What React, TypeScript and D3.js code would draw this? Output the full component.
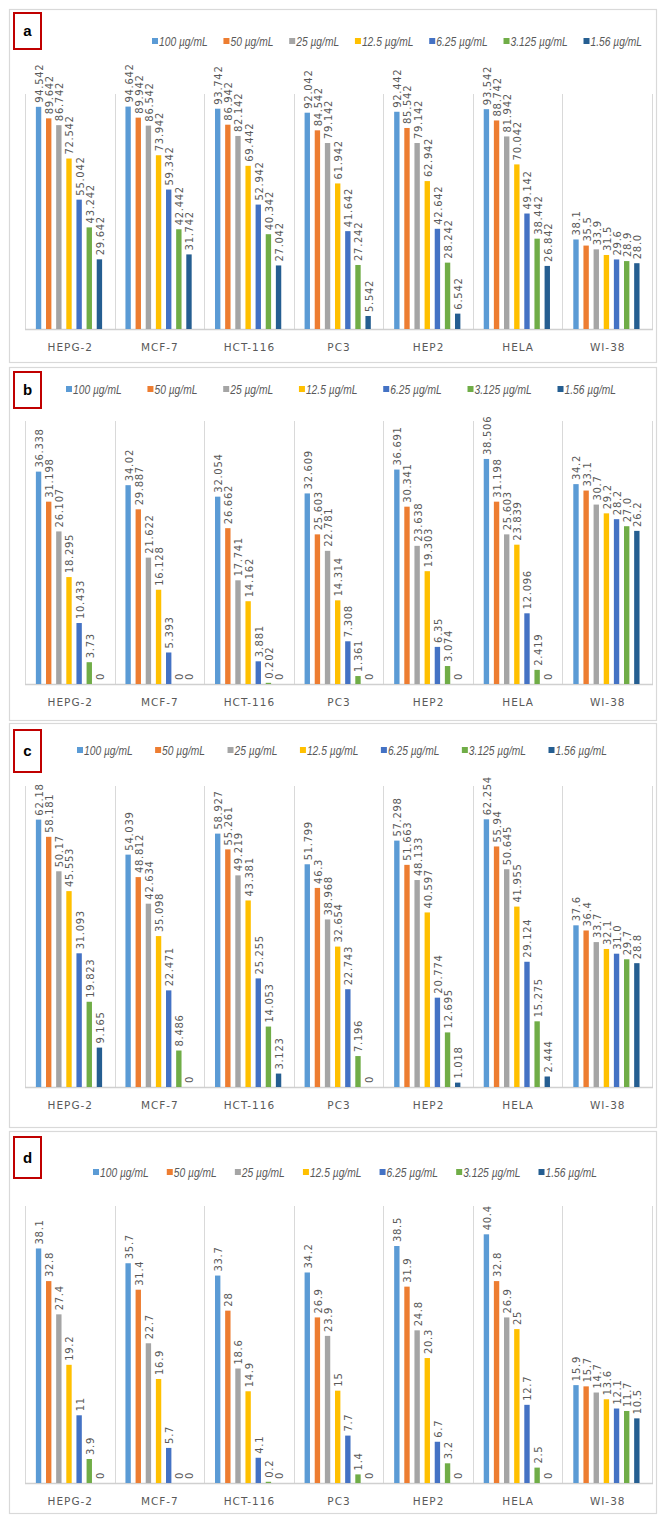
import React, { useEffect, useRef } from "react";
import * as d3 from "d3";

// ---------- data ----------
const categories = ["HEPG-2", "MCF-7", "HCT-116", "PC3", "HEP2", "HELA", "WI-38"];
const concentrations = ["100 µg/mL", "50 µg/mL", "25 µg/mL", "12.5 µg/mL", "6.25 µg/mL", "3.125 µg/mL", "1.56 µg/mL"];
const seriesColors = ["#5B9BD5", "#ED7D31", "#A5A5A5", "#FFC000", "#4472C4", "#70AD47", "#255E91"];
const panelLetters = ["a", "b", "c", "d"];
const panelMax = [100, 45, 70, 45];

// rows = cell lines (categories), columns = concentrations
const valuesA = [
  [94.542, 89.642, 86.742, 72.542, 55.042, 43.242, 29.642],
  [94.642, 89.942, 86.542, 73.942, 59.342, 42.442, 31.742],
  [93.742, 86.942, 82.142, 69.442, 52.942, 40.342, 27.042],
  [92.042, 84.542, 79.142, 61.942, 41.642, 27.242, 5.542],
  [92.442, 85.542, 79.142, 62.942, 42.642, 28.242, 6.542],
  [93.542, 88.742, 81.942, 70.042, 49.142, 38.442, 26.842],
  [38.1, 35.5, 33.9, 31.5, 29.6, 28.9, 28.0],
];
const valuesB = [
  [36.338, 31.198, 26.107, 18.295, 10.433, 3.73, 0],
  [34.02, 29.887, 21.622, 16.128, 5.393, 0, 0],
  [32.054, 26.662, 17.741, 14.162, 3.881, 0.202, 0],
  [32.609, 25.603, 22.781, 14.314, 7.308, 1.361, 0],
  [36.691, 30.341, 23.638, 19.303, 6.35, 3.074, 0],
  [38.506, 31.198, 25.603, 23.839, 12.096, 2.419, 0],
  [34.2, 33.1, 30.7, 29.2, 28.2, 27.0, 26.2],
];
const valuesC = [
  [62.18, 58.181, 50.17, 45.553, 31.093, 19.823, 9.165],
  [54.039, 48.812, 42.634, 35.098, 22.471, 8.486, 0],
  [58.927, 55.261, 49.219, 43.381, 25.255, 14.053, 3.123],
  [51.799, 46.3, 38.968, 32.654, 22.743, 7.196, 0],
  [57.298, 51.663, 48.133, 40.597, 20.774, 12.695, 1.018],
  [62.254, 55.94, 50.645, 41.955, 29.124, 15.275, 2.444],
  [37.6, 36.4, 33.7, 32.1, 31.0, 29.7, 28.8],
];
const valuesD = [
  [38.1, 32.8, 27.4, 19.2, 11, 3.9, 0],
  [35.7, 31.4, 22.7, 16.9, 5.7, 0, 0],
  [33.7, 28, 18.6, 14.9, 4.1, 0.2, 0],
  [34.2, 26.9, 23.9, 15, 7.7, 1.4, 0],
  [38.5, 31.9, 24.8, 20.3, 6.7, 3.2, 0],
  [40.4, 32.8, 26.9, 25, 12.7, 2.5, 0],
  [15.9, 15.7, 14.7, 13.6, 12.1, 11.7, 10.5],
];
const panelValues = [valuesA, valuesB, valuesC, valuesD];

// ---------- layout ----------
const W = 659;
const H = 1515;
const PLOT_LEFT = 25;
const PLOT_RIGHT = 652;
const layouts = [
  { top: 9, bottom: 362, plotTop: 94, baseline: 329, legendY: 41, legendX0: 152, legendX1: 642, boxY: 13, boxH: 36 },
  { top: 367, bottom: 720, plotTop: 421, baseline: 684, legendY: 389, legendX0: 66, legendX1: 616, boxY: 372, boxH: 36 },
  { top: 723, bottom: 1127, plotTop: 786, baseline: 1087, legendY: 750, legendX0: 77, legendX1: 607, boxY: 730, boxH: 42 },
  { top: 1131, bottom: 1513, plotTop: 1206, baseline: 1483, legendY: 1172, legendX0: 93, legendX1: 597, boxY: 1137, boxH: 41 },
];

const LABEL_FONT = "'DejaVu Sans', Verdana, sans-serif";
const LEGEND_FONT = "'Liberation Sans', Arial, sans-serif";
const TEXT_GRAY = "#595959";
const GRID = "#d9d9d9";

function fmtLabel(catIndex: number, v: number) {
  return categories[catIndex] === "WI-38" ? v.toFixed(1) : String(v);
}

export default function App() {
  const ref = useRef<SVGSVGElement | null>(null);

  useEffect(() => {
    const svg = d3.select(ref.current);
    svg.selectAll("*").remove();
    svg.append("rect").attr("width", W).attr("height", H).attr("fill", "#fff");

    const x0 = d3.scaleBand<string>().domain(categories).range([PLOT_LEFT, PLOT_RIGHT]);
    const bw = x0.bandwidth();
    const x1 = d3
      .scaleBand<string>()
      .domain(concentrations)
      .range([bw / 2 - 36.3, bw / 2 + 34.7])
      .paddingInner(0.47)
      .paddingOuter(0.235);

    panelValues.forEach((vals, pi) => {
      const L = layouts[pi];
      const g = svg.append("g");

      // panel frame
      g.append("rect")
        .attr("x", 9.5)
        .attr("y", L.top + 0.5)
        .attr("width", 647)
        .attr("height", L.bottom - L.top)
        .attr("fill", "#fff")
        .attr("stroke", GRID)
        .attr("stroke-width", 1.2);

      const y = d3.scaleLinear().domain([0, panelMax[pi]]).range([L.baseline, L.plotTop]);

      // category separators
      const sepX = categories.map((c) => x0(c) as number).concat([x0.range()[1]]);
      g.selectAll("line.sep")
        .data(sepX)
        .join("line")
        .attr("x1", (d) => Math.round(d) + 0.5)
        .attr("x2", (d) => Math.round(d) + 0.5)
        .attr("y1", y(panelMax[pi]))
        .attr("y2", y(0))
        .attr("stroke", GRID)
        .attr("stroke-width", 1);

      // baseline
      g.append("line")
        .attr("x1", PLOT_LEFT)
        .attr("x2", PLOT_RIGHT + 1)
        .attr("y1", y(0) + 0.5)
        .attr("y2", y(0) + 0.5)
        .attr("stroke", "#d0d0d0")
        .attr("stroke-width", 1.5);

      // bars + labels
      vals.forEach((row, ci) => {
        const gx = x0(categories[ci]) as number;
        row.forEach((v, si) => {
          const bx = gx + (x1(concentrations[si]) as number);
          const by = y(v);
          g.append("rect")
            .attr("x", bx)
            .attr("y", by)
            .attr("width", x1.bandwidth())
            .attr("height", y(0) - by)
            .attr("fill", seriesColors[si]);
          g.append("text")
            .attr("transform", `translate(${bx + x1.bandwidth() / 2 + 1},${by - 4}) rotate(-90)`)
            .attr("dy", "0.35em")
            .attr("font-family", LABEL_FONT)
            .attr("font-size", 10)
            .attr("letter-spacing", 0.7)
            .attr("fill", TEXT_GRAY)
            .text(fmtLabel(ci, v));
        });
      });

      // category labels
      g.selectAll("text.cat")
        .data(categories)
        .join("text")
        .attr("x", (d) => (x0(d) as number) + bw / 2 + 0.5)
        .attr("y", L.baseline + 22)
        .attr("text-anchor", "middle")
        .attr("font-family", LABEL_FONT)
        .attr("font-size", 10.5)
        .attr("letter-spacing", 1)
        .attr("fill", TEXT_GRAY)
        .text((d) => d);

      // legend (condensed italic text)
      const lg = g.append("g");
      const texts = concentrations.map((c) =>
        lg
          .append("text")
          .attr("font-family", LEGEND_FONT)
          .attr("font-style", "italic")
          .attr("font-size", 12.5)
          .attr("fill", TEXT_GRAY)
          .attr("y", L.legendY + 4.5)
          .text(c)
      );
      const widths = texts.map((t) => (t.node() as SVGTextElement).getComputedTextLength() * 0.82);
      texts.forEach((t, i) => t.attr("textLength", widths[i]).attr("lengthAdjust", "spacingAndGlyphs"));
      const itemW = widths.map((w) => 7 + w);
      const total = d3.sum(itemW);
      const gap = (L.legendX1 - L.legendX0 - total) / (concentrations.length - 1);
      let cx = L.legendX0;
      concentrations.forEach((c, i) => {
        lg.append("rect")
          .attr("x", cx)
          .attr("y", L.legendY - 3)
          .attr("width", 6)
          .attr("height", 6)
          .attr("fill", seriesColors[i]);
        texts[i].attr("x", cx + 7);
        cx += itemW[i] + gap;
      });

      // panel letter box
      g.append("rect")
        .attr("x", 14)
        .attr("y", L.boxY)
        .attr("width", 27)
        .attr("height", L.boxH)
        .attr("fill", "#fff")
        .attr("stroke", "#C00000")
        .attr("stroke-width", 2);
      g.append("text")
        .attr("x", 27.5)
        .attr("y", L.boxY + L.boxH / 2 + 5)
        .attr("text-anchor", "middle")
        .attr("font-family", "'Liberation Sans', sans-serif")
        .attr("font-weight", "bold")
        .attr("font-size", 15)
        .attr("fill", "#000")
        .text(panelLetters[pi]);
    });
  }, []);

  return (
    <svg
      ref={ref}
      width={W}
      height={H}
      style={{ position: "absolute", left: 0, top: 0, display: "block" }}
    />
  );
}
